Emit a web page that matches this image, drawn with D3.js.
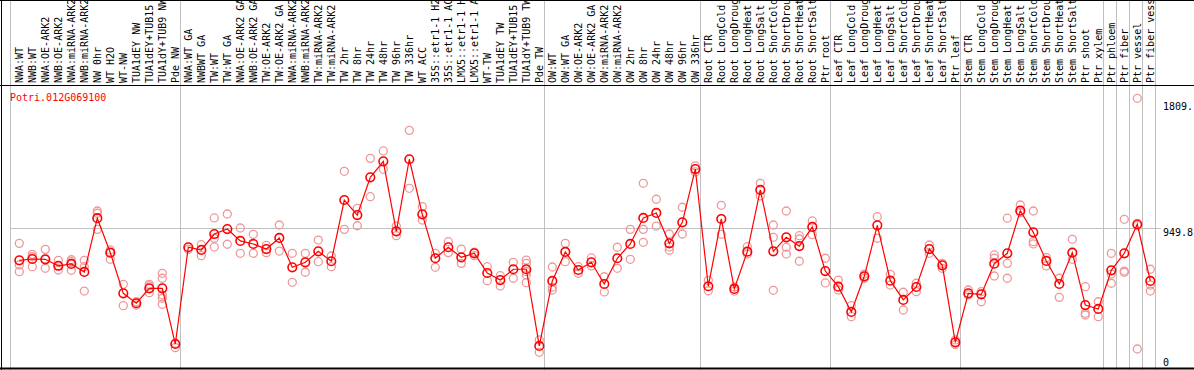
<!DOCTYPE html>
<html>
<head>
<meta charset="utf-8">
<script src="https://cdn.jsdelivr.net/npm/d3@7"></script>
<style>
  body { margin: 0; background: #fff; }
  svg { display: block; }
  text { font-family: "DejaVu Sans Mono", monospace; font-size: 10px; }
</style>
</head>
<body>
<div class="vis-holder"></div>
<script>
// gene shown in the top left corner
var geneId = "Potri.012G069100";

// sample names, one per column (long ones get cut off at the top, like the original)
var labels = [
  "NWA:WT", "NWB:WT", "NWA:OE-ARK2", "NWB:OE-ARK2", "NWA:miRNA-ARK2", "NWB:miRNA-ARK2",
  "NW 0hr", "WT H2O", "WT-NW", "TUA1dEY NW", "TUA1dEY+TUB15", "TUA1dY+TUB9 NW", "Pde NW",
  "NWA:WT GA", "NWBWT GA", "TW:WT", "TW:WT GA", "NWA:OE-ARK2 GA", "NWB:OE-ARK2 GA",
  "TW:OE-ARK2", "TW:OE-ARK2 GA", "NWA:miRNA-ARK2", "NWB:miRNA-ARK2", "TW:miRNA-ARK2", "TW:miRNA-ARK2",
  "TW 2hr", "TW 8hr", "TW 24hr", "TW 48hr", "TW 96hr", "TW 336hr", "WT ACC",
  "35S::etr1-1 H2O", "35S::etr1-1 ACC", "LMX5::etr1-1 H2O", "LMX5::etr1-1 ACC",
  "WT-TW", "TUA1dEY TW", "TUA1dEY+TUB15", "TUA1dY+TUB9 TW", "Pde TW",
  "OW:WT", "OW:WT GA", "OW:OE-ARK2", "OW:OE-ARK2 GA", "OW:miRNA-ARK2", "OW:miRNA-ARK2",
  "OW 2hr", "OW 8hr", "OW 24hr", "OW 48hr", "OW 96hr", "OW 336hr",
  "Root CTR", "Root LongCold", "Root LongDrought", "Root LongHeat", "Root LongSalt",
  "Root ShortCold", "Root ShortDrought", "Root ShortHeat", "Root ShortSalt", "Ptr root",
  "Leaf CTR", "Leaf LongCold", "Leaf LongDrought", "Leaf LongHeat", "Leaf LongSalt",
  "Leaf ShortCold", "Leaf ShortDrought", "Leaf ShortHeat", "Leaf ShortSalt", "Ptr leaf",
  "Stem CTR", "Stem LongCold", "Stem LongDrought", "Stem LongHeat", "Stem LongSalt",
  "Stem ShortCold", "Stem ShortDrought", "Stem ShortHeat", "Stem ShortSalt", "Ptr shoot",
  "Ptr xylem", "Ptr phloem", "Ptr fiber", "Ptr vessel", "Ptr fiber vessel"
];

// column index where each block of samples starts (gray separator lines)
var groupStarts = [0, 13, 41, 53, 63, 73, 84, 85, 86, 87, 88];

// mean expression per sample
var means = [
  732, 741, 739, 696, 708, 655, 1012, 783, 513, 447, 546, 546, 176,
  819, 801, 907, 940, 861, 841, 807, 881, 686, 719, 792, 726, 1133, 1033, 1284, 1390, 925, 1404,
  1038, 746, 819, 752, 779, 648, 601, 673, 673, 163,
  595, 788, 668, 719, 575, 746, 841, 1014, 1047, 845, 985, 1339,
  560, 1007, 542, 790, 1200, 792, 885, 827, 954, 661,
  557, 389, 626, 965, 597, 469, 555, 807, 699, 187,
  513, 506, 710, 779, 1062, 918, 728, 575, 783, 435,
  409, 666, 779, 972, 595
];

// single replicate values per sample
var reps = [
  [845, 701, 657], [772, 756, 690], [805, 739, 679], [732, 696, 668], [736, 723, 666],
  [732, 690, 528], [1060, 1045, 938], [801, 739], [573, 431], [457, 435],
  [573, 562, 517], [646, 613, 502, 480, 440], [152, 181],
  [805], [836, 763], [1014, 879, 821], [1040, 839], [947, 779], [905, 779], [832, 783],
  [967, 794], [779, 586], [779, 653], [867, 723], [761, 690], [1324, 938], [1078, 962],
  [1410, 1155], [1459, 1337], [960, 896], [1596, 1211], [1089, 1000], [779, 686],
  [856, 783], [807, 712], [786, 763], [690, 597], [630, 562], [719, 613],
  [734, 712, 657, 635, 584], [203, 121],
  [688, 553, 535], [845, 723], [690, 646], [748, 695], [623, 522], [819, 679],
  [938, 739], [1244, 938, 852], [1138, 960], [907, 821, 799], [1085, 907], [1360, 1320],
  [599, 530], [1098, 905], [555, 528], [823, 774], [1244, 1160], [967, 885, 533],
  [1060, 819, 774], [896, 874, 726], [994, 903], [746, 582],
  [601, 535], [431, 358], [641, 613], [1022, 879], [639, 568], [520, 402], [580, 524],
  [834, 779], [712, 679], [203, 173],
  [535, 502], [524, 457], [768, 746, 628], [1012, 712, 613], [1100, 1049],
  [1060, 856, 841], [750, 695], [613, 486], [872, 739], [557, 380, 369],
  [457, 358], [779, 641, 580], [1005, 661, 653], [1809, 963, 143], [673, 568, 528]
];

// value axis labels on the right
var yTickValues = [1809, 949.8, 0];
var yTickLabels = ["1809.", "949.8", "0"];

var width = 1194;
var height = 370;
var headerBottom = 85.5;
var plotLeft = 10.5;
var plotRight = 1161;

var svg = d3.select(".vis-holder")
            .append("svg")
            .attr("width", width)
            .attr("height", height);

// one column every 13 px
var xScale = d3.scaleLinear()
               .domain([0, labels.length - 1])
               .range([19.3, 19.3 + 13 * (labels.length - 1)]);

var yScale = d3.scaleLinear()
               .domain([0, 1809])
               .range([370.5, 98.3]);

// gray block separators, full height
svg.append("g")
   .selectAll("line")
   .data(groupStarts)
   .enter()
   .append("line")
   .attr("x1", function(d) { return d === 0 ? plotLeft : Math.round(xScale(d) - 8) + 0.5; })
   .attr("x2", function(d) { return d === 0 ? plotLeft : Math.round(xScale(d) - 8) + 0.5; })
   .attr("y1", 0)
   .attr("y2", height)
   .attr("stroke", "#c0c0c0")
   .attr("stroke-width", 1);

// gray horizontal line at the middle tick
svg.append("line")
   .attr("x1", plotLeft)
   .attr("x2", plotRight)
   .attr("y1", Math.round(yScale(yTickValues[1])) + 0.5)
   .attr("y2", Math.round(yScale(yTickValues[1])) + 0.5)
   .attr("stroke", "#c0c0c0");

// black frame lines
svg.append("line").attr("x1", 0).attr("x2", width).attr("y1", 0.5).attr("y2", 0.5).attr("stroke", "#000");
svg.append("line").attr("x1", 0).attr("x2", width).attr("y1", headerBottom).attr("y2", headerBottom).attr("stroke", "#000");
svg.append("line").attr("x1", 0).attr("x2", width).attr("y1", height - 1.5).attr("y2", height - 1.5).attr("stroke", "#000").attr("stroke-width", 2);
svg.append("line").attr("x1", 1.5).attr("x2", 1.5).attr("y1", 0).attr("y2", height).attr("stroke", "#000");

// rotated sample names in the header
svg.append("g")
   .selectAll("text")
   .data(labels)
   .enter()
   .append("text")
   .attr("transform", function(d, i) { return "translate(" + (xScale(i) + 3.5) + "," + 83 + ")rotate(-90)"; })
   .attr("fill", "#000")
   .text(function(d) { return d; });

// gene name
svg.append("text")
   .attr("x", 10)
   .attr("y", 100.5)
   .attr("fill", "#ff0000")
   .text(geneId);

// value labels on the right
svg.append("g")
   .selectAll("text")
   .data(yTickValues)
   .enter()
   .append("text")
   .attr("x", 1163)
   .attr("y", function(d) {
     if (d === 0) return yScale(d) - 4.5;
     if (d === yTickValues[0]) return yScale(d) + 12;
     return yScale(d) + 8.5;
   })
   .attr("fill", "#000")
   .text(function(d, i) { return yTickLabels[i]; });

// replicate points
var repPoints = [];
reps.forEach(function(r, i) {
  r.forEach(function(v) { repPoints.push({ i: i, v: v }); });
});

svg.append("g")
   .selectAll("circle")
   .data(repPoints)
   .enter()
   .append("circle")
   .attr("cx", function(d) { return xScale(d.i); })
   .attr("cy", function(d) { return yScale(d.v); })
   .attr("r", 4)
   .attr("fill", "none")
   .attr("stroke", "#ee9999")
   .attr("stroke-width", 1.3);

// line through the means
var line = d3.line()
             .x(function(d, i) { return xScale(i); })
             .y(function(d) { return yScale(d); });

svg.append("path")
   .attr("d", line(means))
   .attr("fill", "none")
   .attr("stroke", "#ff0000")
   .attr("stroke-width", 1.2);

// mean points
svg.append("g")
   .selectAll("circle")
   .data(means)
   .enter()
   .append("circle")
   .attr("cx", function(d, i) { return xScale(i); })
   .attr("cy", function(d) { return yScale(d); })
   .attr("r", 4.3)
   .attr("fill", "none")
   .attr("stroke", "#ff0000")
   .attr("stroke-width", 1.6);
</script>
</body>
</html>
